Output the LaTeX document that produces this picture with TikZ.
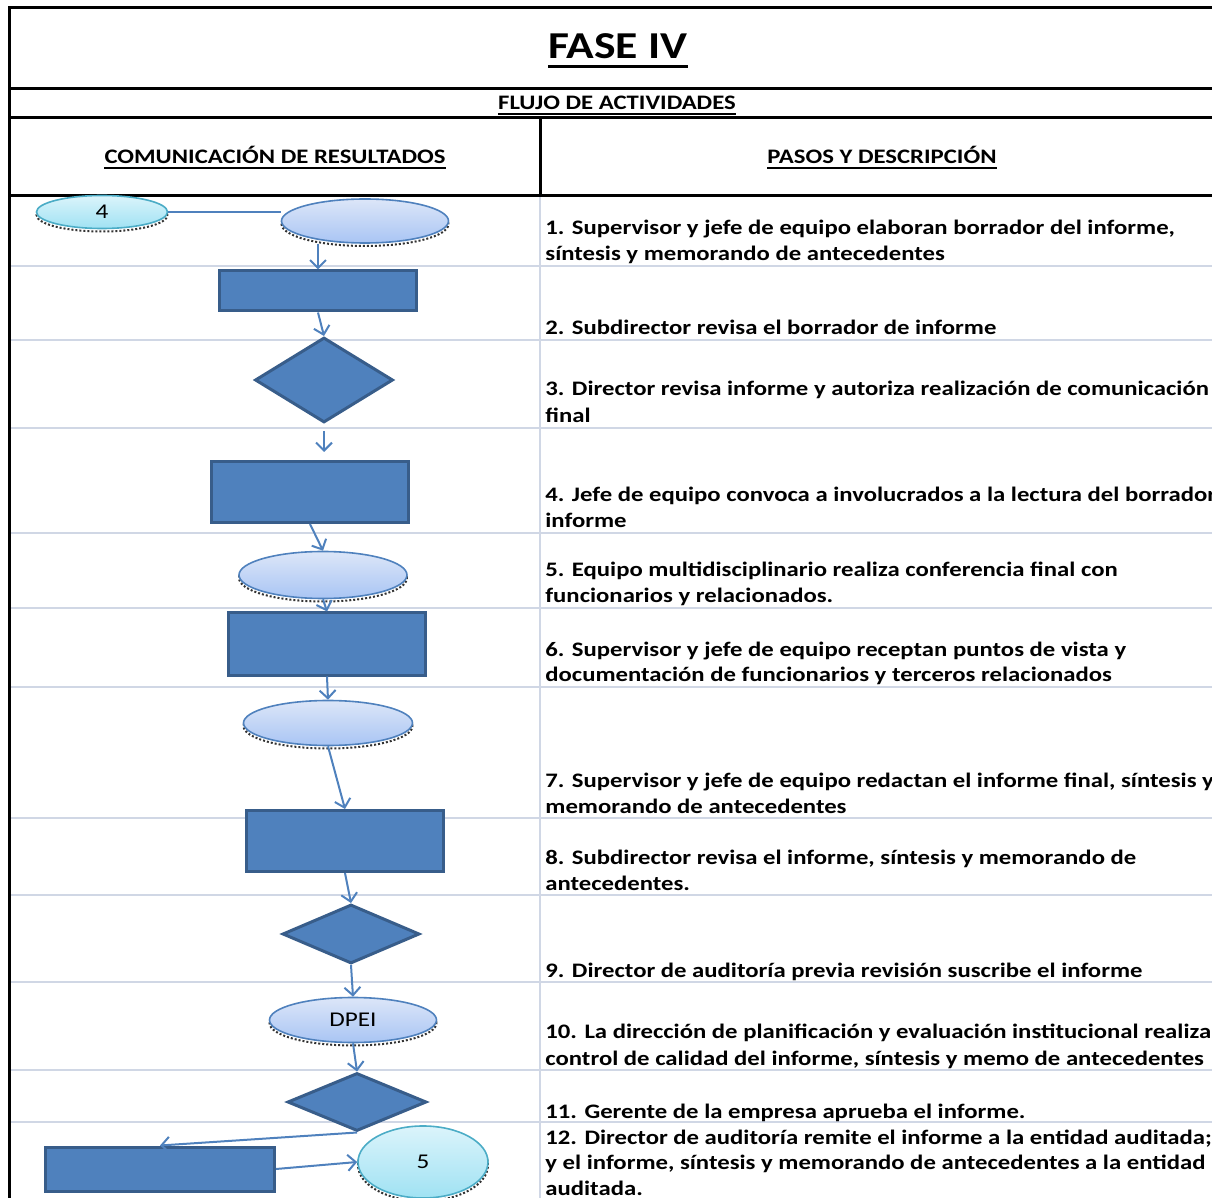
\documentclass[tikz,border=0pt]{standalone}
\usepackage{fontspec}
\setmainfont{Carlito}
\newfontfamily\widefont[FakeStretch=1.2]{Carlito}
\usetikzlibrary{shapes.geometric,arrows.meta}

\definecolor{boxfill}{HTML}{4F81BD}
\definecolor{boxline}{HTML}{385D8A}
\definecolor{ovaltop}{HTML}{DCE6F8}
\definecolor{ovalbot}{HTML}{A9C5F4}
\definecolor{cyantop}{HTML}{DBF4FB}
\definecolor{cyanbot}{HTML}{A0E2F3}
\definecolor{cyanline}{HTML}{4BACC6}
\definecolor{gridgray}{HTML}{D0D7E5}

\tikzset{
  proc/.style={draw=boxline, fill=boxfill, line width=1.5pt, minimum width=98.5pt, minimum height=30.5pt, inner sep=0pt},
  decide/.style={diamond, draw=boxline, fill=boxfill, line width=1.5pt, inner sep=0pt},
  speckle/.style={preaction={draw=black!80, densely dotted, line width=1pt, transform canvas={yshift=-1.5pt}}},
  oval/.style={ellipse, speckle, draw=boxfill, line width=0.8pt, top color=ovaltop, bottom color=ovalbot, inner sep=0pt, font=\widefont\fontsize{10.5}{10.5}\selectfont},
  link/.style={ellipse, speckle, draw=cyanline, line width=0.8pt, top color=cyantop, bottom color=cyanbot, inner sep=0pt, font=\widefont\fontsize{10.5}{10.5}\selectfont},
  flow/.style={draw=boxfill, line width=1pt, -{Straight Barb[length=4pt,width=8pt]}},
  paso/.style={anchor=base west, inner sep=0pt, font=\widefont\bfseries\fontsize{10.3}{13}\selectfont},
  cabeza/.style={anchor=base, inner sep=0pt, font=\widefont\bfseries\fontsize{10.3}{13}\selectfont},
  grid line/.style={draw=gridgray, line width=0.8pt},
  frame/.style={draw=black, line width=1.5pt},
}

\begin{document}
\begin{tikzpicture}[x=0.5pt, y=-0.5pt]
    \useasboundingbox (0,0) rectangle (1212,1198);

    % Grid
    \foreach \y in {266,340,428,533,608,687,818,895,982,1070,1122}
        \draw[grid line] (9,\y) -- (1212,\y);
    \draw[grid line] (540,196) -- (540,1198);

    % Frame
    \draw[frame] (1212,8) -- (9,8) -- (9,1198);
    \draw[frame] (9,89) -- (1212,89);
    \draw[frame] (9,118) -- (1212,118);
    \draw[frame] (9,196) -- (1212,196);
    \draw[frame] (540,118) -- (540,196);

    % Headings
    \node (fase) [cabeza, font=\widefont\bfseries\fontsize{19}{19}\selectfont] at (618,59) {FASE IV};
    \node (flujo) [cabeza] at (617,110) {FLUJO DE ACTIVIDADES};
    \node (comun) [cabeza] at (275,164) {COMUNICACIÓN DE RESULTADOS};
    \node (pasos) [cabeza] at (882,164) {PASOS Y DESCRIPCIÓN};
    \draw[line width=1.5pt] ([yshift=-4pt]fase.base west) -- ([yshift=-4pt]fase.base east);
    \foreach \n in {flujo,comun,pasos}
        \draw[line width=1pt] ([yshift=-2pt]\n.base west) -- ([yshift=-2pt]\n.base east);

    % Steps
    \foreach \y/\t [count=\i] in {
        235/{1. Supervisor y jefe de equipo elaboran borrador del informe,},
        261/{síntesis y memorando de antecedentes},
        335/{2. Subdirector revisa el borrador de informe},
        396/{3. Director revisa informe y autoriza realización de comunicación},
        423/{final},
        502/{4. Jefe de equipo convoca a involucrados a la lectura del borrador de},
        528/{informe},
        577/{5. Equipo multidisciplinario realiza conferencia final con},
        603/{funcionarios y relacionados.},
        656/{6. Supervisor y jefe de equipo receptan puntos de vista y},
        682/{documentación de funcionarios y terceros relacionados},
        787/{7. Supervisor y jefe de equipo redactan el informe final, síntesis y},
        813/{memorando de antecedentes},
        864/{8. Subdirector revisa el informe, síntesis y memorando de},
        890/{antecedentes.},
        977/{9. Director de auditoría previa revisión suscribe el informe},
        1038/{10. La dirección de planificación y evaluación institucional realiza},
        1065/{control de calidad del informe, síntesis y memo de antecedentes},
        1118/{11. Gerente de la empresa aprueba el informe.},
        1144/{12. Director de auditoría remite el informe a la entidad auditada;},
        1169/{y el informe, síntesis y memorando de antecedentes a la entidad},
        1195/{auditada.}}
        \node (paso\i) [paso] at (545,\y) {\t};

    % Flow
    \node (e4) [link, minimum width=65.5pt, minimum height=16.5pt] at (102,212) {4};
    \node (e1) [oval, minimum width=83.5pt, minimum height=22pt] at (365,221) {};
    \node (r1) [proc, minimum height=20pt] at (318,291) {};
    \node (d1) [decide, minimum width=69pt, minimum height=42.5pt] at (324,380) {};
    \node (r2) [proc] at (310,492) {};
    \node (e2) [oval, minimum width=84pt, minimum height=23.5pt] at (323,575) {};
    \node (r3) [proc, minimum height=31pt] at (327,644) {};
    \node (e3) [oval, minimum width=84.5pt, minimum height=22.5pt] at (328,723) {};
    \node (r4) [proc] at (345,841) {};
    \node (d2) [decide, minimum width=68.5pt, minimum height=29.5pt] at (351,934) {};
    \node (dpei) [oval, minimum width=83.5pt, minimum height=22.5pt] at (353,1020) {DPEI};
    \node (d3) [decide, minimum width=69.5pt, minimum height=29pt] at (357,1102) {};
    \node (r5) [proc, minimum width=114.5pt, minimum height=22pt] at (160,1169) {};
    \node (e5) [link, minimum width=65pt, minimum height=36pt] at (423,1162) {5};

    % Arrows
    \draw[draw=boxfill, line width=1pt] (e4.east) -- (e1.west |- e4.east);
    \draw[flow] (e1.south -| r1.north) -- (r1.north);
    \draw[flow] (r1.south) -- (d1.north);
    \draw[flow, shorten <=3.5pt, shorten >=4pt] (d1.south) -- (d1.south |- r2.north);
    \draw[flow] (r2.south) -- (e2.north);
    \draw[flow] (e2.south) -- (r3.north);
    \draw[flow] (r3.south) -- (e3.north);
    \draw[flow] (e3.south) -- (r4.north);
    \draw[flow] (r4.south) -- (d2.north);
    \draw[flow] (d2.south) -- (dpei.north);
    \draw[flow] (dpei.south) -- (d3.north);
    \draw[flow] (d3.south) -- (r5.north);
    \draw[flow] (r5.east) -- (e5.west);
\end{tikzpicture}
\end{document}
